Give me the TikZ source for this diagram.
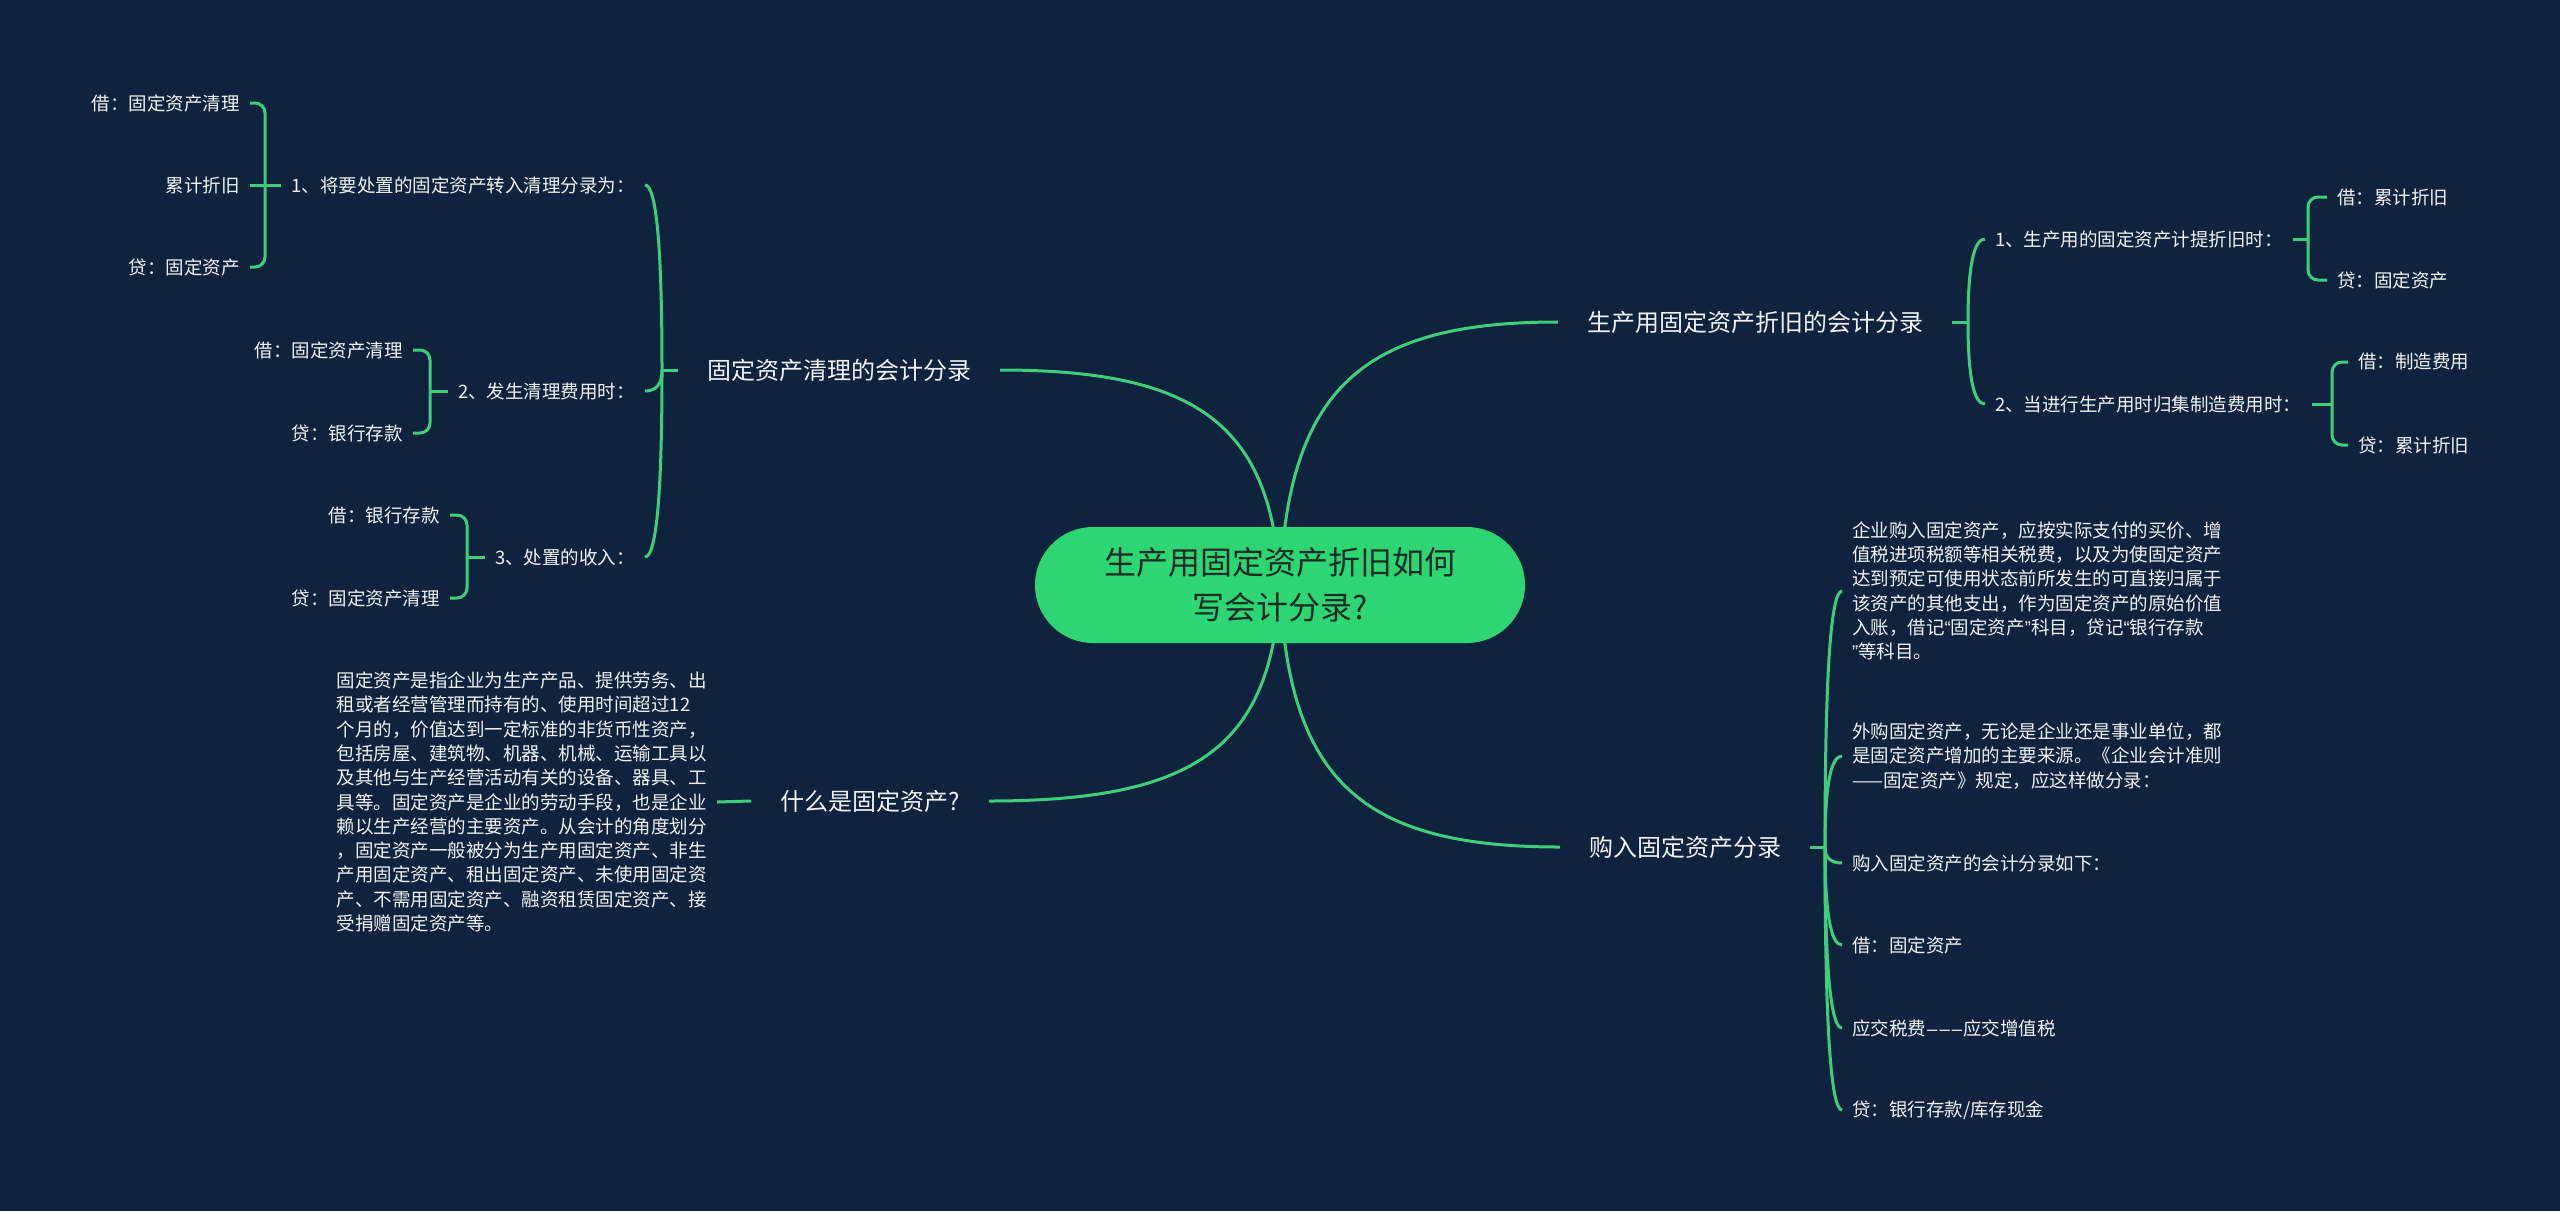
\documentclass[tikz,border=0pt]{standalone}
\usepackage{fontspec}
\newfontfamily\cjk{Noto Sans CJK SC}
\newfontfamily\lat{Liberation Sans}
\usetikzlibrary{calc,backgrounds}
\definecolor{bgc}{RGB}{15,35,63}
\definecolor{lnc}{RGB}{62,207,120}
\definecolor{rootfill}{RGB}{46,213,115}
\definecolor{roottext}{RGB}{24,44,38}
\definecolor{txt}{RGB}{240,242,245}
\tikzset{
  conn/.style={draw=lnc, line width=3pt, line join=round},
  rootbox/.style={fill=rootfill, rounded corners=58pt, minimum width=490pt, minimum height=116pt,
    align=center, text=roottext, font=\cjk\fontsize{32}{45}\selectfont, inner sep=0pt},
  branch/.style={font=\cjk\fontsize{24}{30}\selectfont, text=txt, inner xsep=29pt, inner ysep=6pt},
  leaf/.style={font=\cjk\fontsize{18.5}{24.3}\selectfont, text=txt, inner xsep=10pt, inner ysep=3pt},
  para/.style={leaf, align=left, inner ysep=0pt},
}
\newcommand\qhook[2]{\draw[conn] (#1) .. controls ($(#1)!0.667!(#1|-#2)$) and ($(#2)!0.667!(#1|-#2)$) .. (#2);}
\newcommand\ehook[2]{\draw[conn, rounded corners=10pt] (#1) |- (#2);}
\newcommand\myLQ{{\lat \char"201C\relax}}
\newcommand\myRQ{{\lat \char"201D\relax}}
\newcommand\fcl{\char"FF1A\relax}
\newcommand\fcm{\char"FF0C\relax}
\newcommand\tridash{{\lat\kern1pt\char"2013\kern2pt\char"2013\kern2pt\char"2013\kern1pt\relax}}
\begin{document}
\begin{tikzpicture}[x=1pt, y=-1pt]
\useasboundingbox (0,0) rectangle (2560,1211);
\begin{pgfonlayer}{background}
\fill[bgc] (0,0) rectangle (2560,1211);
\end{pgfonlayer}

% root
\node[rootbox] (root) at (1280,585) {生产用固定资产折旧如何\\写会计分录?};

% main branches
\node[branch] (b1) at (839,370) {固定资产清理的会计分录};
\node[branch] (b2) at (870,801) {什么是固定资产?};
\node[branch] (b3) at (1755,322) {生产用固定资产折旧的会计分录};
\node[branch] (b4) at (1685,847) {购入固定资产分录};

% left: 固定资产清理
\node[leaf, anchor=east] (L1) at (645,185) {1、将要处置的固定资产转入清理分录为\fcl};
\node[leaf, anchor=east] (L2) at (645,391) {2、发生清理费用时\fcl};
\node[leaf, anchor=east] (L3) at (645,557) {3、处置的收入\fcl};
\node[leaf, anchor=east] (L1a) at (250,103) {借\fcl 固定资产清理};
\node[leaf, anchor=east] (L1b) at (250,185) {累计折旧};
\node[leaf, anchor=east] (L1c) at (250,267) {贷\fcl 固定资产};
\node[leaf, anchor=east] (L2a) at (413,350) {借\fcl 固定资产清理};
\node[leaf, anchor=east] (L2b) at (413,433) {贷\fcl 银行存款};
\node[leaf, anchor=east] (L3a) at (450,515) {借\fcl 银行存款};
\node[leaf, anchor=east] (L3b) at (450,598) {贷\fcl 固定资产清理};

% left: 什么是固定资产
\node[para, anchor=east] (PL) at (717,802) {固定资产是指企业为生产产品、提供劳务、出\\
租或者经营管理而持有的、使用时间超过12\\
个月的\fcm 价值达到一定标准的非货币性资产\fcm\\
包括房屋、建筑物、机器、机械、运输工具以\\
及其他与生产经营活动有关的设备、器具、工\\
具等。固定资产是企业的劳动手段\fcm 也是企业\\
赖以生产经营的主要资产。从会计的角度划分\\
\fcm 固定资产一般被分为生产用固定资产、非生\\
产用固定资产、租出固定资产、未使用固定资\\
产、不需用固定资产、融资租赁固定资产、接\\
受捐赠固定资产等。};

% right: 折旧
\node[leaf, anchor=west] (R1) at (1985,239) {1、生产用的固定资产计提折旧时\fcl};
\node[leaf, anchor=west] (R2) at (1985,404) {2、当进行生产用时归集制造费用时\fcl};
\node[leaf, anchor=west] (R1a) at (2327,197) {借\fcl 累计折旧};
\node[leaf, anchor=west] (R1b) at (2327,280) {贷\fcl 固定资产};
\node[leaf, anchor=west] (R2a) at (2348,362) {借\fcl 制造费用};
\node[leaf, anchor=west] (R2b) at (2348,445) {贷\fcl 累计折旧};

% right: 购入
\node[para, anchor=west] (P1) at (1842,591) {企业购入固定资产\fcm 应按实际支付的买价、增\\
值税进项税额等相关税费\fcm 以及为使固定资产\\
达到预定可使用状态前所发生的可直接归属于\\
该资产的其他支出\fcm 作为固定资产的原始价值\\
入账\fcm 借记\myLQ 固定资产\myRQ 科目\fcm 贷记\myLQ 银行存款\\
\myRQ 等科目。};
\node[para, anchor=west] (P2) at (1842,756) {外购固定资产\fcm 无论是企业还是事业单位\fcm 都\\
是固定资产增加的主要来源。《企业会计准则\\
——固定资产》规定\fcm 应这样做分录\fcl};
\node[leaf, anchor=west] (B3) at (1842,863) {购入固定资产的会计分录如下\fcl};
\node[leaf, anchor=west] (B4) at (1842,945) {借\fcl 固定资产};
\node[leaf, anchor=west] (B5) at (1842,1028) {应交税费\tridash 应交增值税};
\node[leaf, anchor=west] (B6) at (1842,1110) {贷\fcl 银行存款/库存现金};

% junctions
\coordinate (jl) at (662,370);
\coordinate (j1) at (265,185);
\coordinate (j2) at (430,391);
\coordinate (j3) at (467,557);
\coordinate (jr) at (1968,322);
\coordinate (jr1) at (2308,239);
\coordinate (jr2) at (2332,404);
\coordinate (jb) at (1825,847);

\begin{pgfonlayer}{background}
\draw[conn] (root.center) .. controls (1272,424) and (1196,370) .. (b1.east);
\draw[conn] (root.center) .. controls (1272,747) and (1196,801) .. (b2.east);
\draw[conn] (root.center) .. controls (1288,388) and (1363,322) .. (b3.west);
\draw[conn] (root.center) .. controls (1288,782) and (1363,847) .. (b4.west);
\end{pgfonlayer}

% left brackets
\draw[conn] (b1.west) -- (jl);
\qhook{jl}{L1.east}
\qhook{jl}{L2.east}
\qhook{jl}{L3.east}
\draw[conn] (L1.west) -- (j1);
\ehook{j1}{L1a.east}
\draw[conn] (j1) -- (L1b.east);
\ehook{j1}{L1c.east}
\draw[conn] (L2.west) -- (j2);
\ehook{j2}{L2a.east}
\ehook{j2}{L2b.east}
\draw[conn] (L3.west) -- (j3);
\ehook{j3}{L3a.east}
\ehook{j3}{L3b.east}
\draw[conn] (b2.west) -- (PL.east);

% right brackets
\draw[conn] (b3.east) -- (jr);
\qhook{jr}{R1.west}
\qhook{jr}{R2.west}
\draw[conn] (R1.east) -- (jr1);
\ehook{jr1}{R1a.west}
\ehook{jr1}{R1b.west}
\draw[conn] (R2.east) -- (jr2);
\ehook{jr2}{R2a.west}
\ehook{jr2}{R2b.west}
\draw[conn] (b4.east) -- (jb);
\qhook{jb}{P1.west}
\qhook{jb}{P2.west}
\qhook{jb}{B3.west}
\qhook{jb}{B4.west}
\qhook{jb}{B5.west}
\qhook{jb}{B6.west}
\end{tikzpicture}
\end{document}
